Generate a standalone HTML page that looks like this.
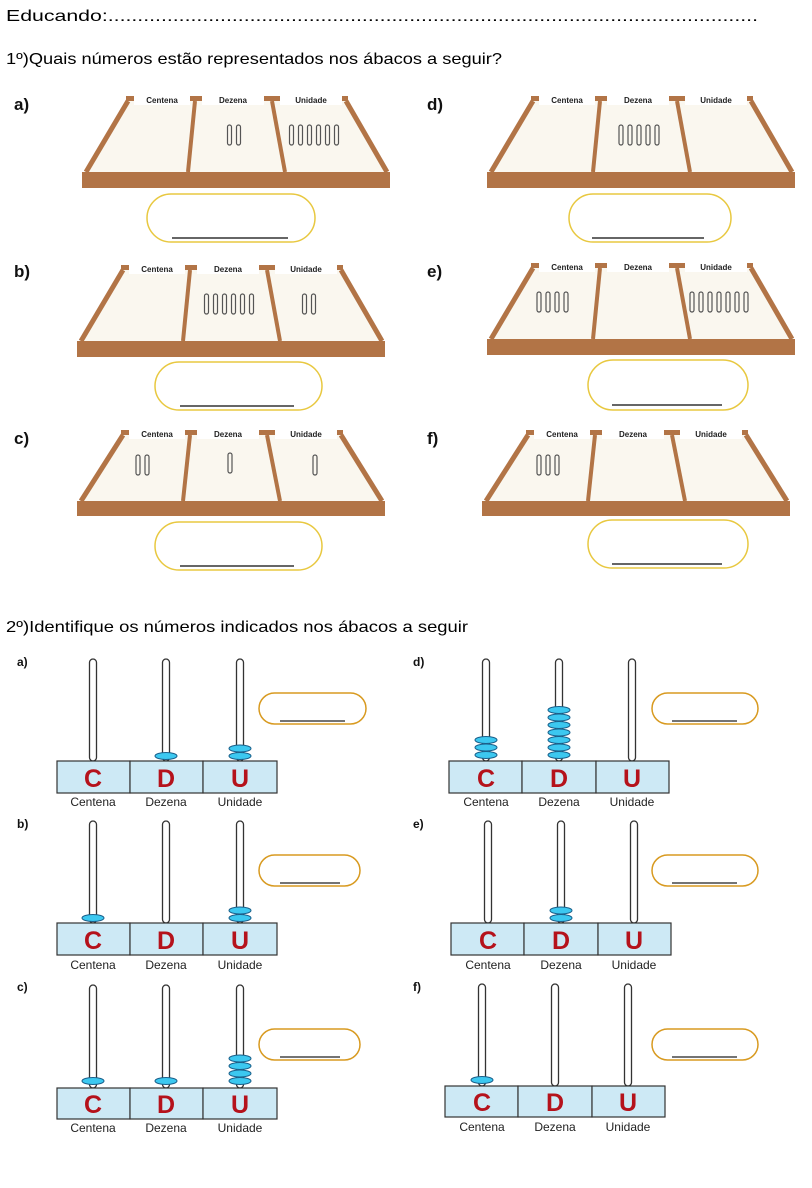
<!DOCTYPE html>
<html><head><meta charset="utf-8"><style>
html,body{margin:0;padding:0;background:#fff;width:812px;height:1188px;overflow:hidden}
svg{display:block}
.t{font-family:"Liberation Sans",sans-serif}
.lb{font-family:"Liberation Sans",sans-serif;font-size:8px;font-weight:bold;fill:#222}
.st{fill:none;stroke:#555;stroke-width:1.2}
.rod{fill:#fff;stroke:#333;stroke-width:1.3}
.bd{fill:#3cc8f0;stroke:#1a5f8a;stroke-width:1}
.cell{fill:#cde9f5;stroke:#333;stroke-width:1.2}
.L{font-family:"Liberation Sans",sans-serif;font-weight:bold;font-size:25px;fill:#b5121b}
.cap{font-family:"Liberation Sans",sans-serif;font-size:12px;fill:#222}
.ov{fill:#fff;stroke:#e8c840;stroke-width:1.5}
.ov2{fill:#fff;stroke:#d89a20;stroke-width:1.5}
</style></head><body>
<svg width="812" height="1188" viewBox="0 0 812 1188" xmlns="http://www.w3.org/2000/svg">
<text class="t" x="6" y="21" font-size="16" textLength="752" lengthAdjust="spacingAndGlyphs">Educando:..............................................................................................................</text>
<text class="t" x="6" y="64" font-size="16" textLength="496" lengthAdjust="spacingAndGlyphs">1º)Quais números estão representados nos ábacos a seguir?</text>
<text class="t" x="6" y="632" font-size="16" textLength="462" lengthAdjust="spacingAndGlyphs">2º)Identifique os números indicados nos ábacos a seguir</text>

<g class="t" font-size="17" font-weight="bold" fill="#111">
<text x="14" y="110">a)</text><text x="427" y="110">d)</text>
<text x="14" y="277">b)</text><text x="427" y="277">e)</text>
<text x="14" y="444">c)</text><text x="427" y="444">f)</text>
</g>

<defs>
<g id="none"></g>
</defs>

<!-- Tray a -->
<g transform="translate(82,101)">
<polygon points="46,0 264,0 306,71 2,71" fill="#faf7ef"/>
<rect x="0" y="71" width="308" height="16" fill="#b27446"/>
<line x1="46" y1="0" x2="4" y2="71" stroke="#b27446" stroke-width="5"/>
<line x1="264" y1="0" x2="305" y2="71" stroke="#b27446" stroke-width="5"/>
<line x1="113" y1="0" x2="106" y2="71" stroke="#b27446" stroke-width="4"/>
<line x1="190" y1="0" x2="203" y2="71" stroke="#b27446" stroke-width="4"/>
<rect x="44" y="-5" width="222" height="5" fill="#b27446"/>
<rect x="52" y="-6" width="56" height="10" fill="#fff"/><rect x="120" y="-6" width="62" height="10" fill="#fff"/><rect x="198" y="-6" width="62" height="10" fill="#fff"/>
<text class="lb" x="80" y="2" text-anchor="middle">Centena</text><text class="lb" x="151" y="2" text-anchor="middle">Dezena</text><text class="lb" x="229" y="2" text-anchor="middle">Unidade</text>
<g class="st"><rect x="145.5" y="24" width="4" height="20" rx="2"/><rect x="154.5" y="24" width="4" height="20" rx="2"/>
<rect x="207.5" y="24" width="4" height="20" rx="2"/><rect x="216.5" y="24" width="4" height="20" rx="2"/><rect x="225.5" y="24" width="4" height="20" rx="2"/><rect x="234.5" y="24" width="4" height="20" rx="2"/><rect x="243.5" y="24" width="4" height="20" rx="2"/><rect x="252.5" y="24" width="4" height="20" rx="2"/></g>
</g>
<rect class="ov" x="147" y="194" width="168" height="48" rx="24"/><line x1="172" y1="238" x2="288" y2="238" stroke="#333" stroke-width="1.5"/>

<!-- Tray d -->
<g transform="translate(487,101)">
<polygon points="46,0 264,0 306,71 2,71" fill="#faf7ef"/>
<rect x="0" y="71" width="308" height="16" fill="#b27446"/>
<line x1="46" y1="0" x2="4" y2="71" stroke="#b27446" stroke-width="5"/>
<line x1="264" y1="0" x2="305" y2="71" stroke="#b27446" stroke-width="5"/>
<line x1="113" y1="0" x2="106" y2="71" stroke="#b27446" stroke-width="4"/>
<line x1="190" y1="0" x2="203" y2="71" stroke="#b27446" stroke-width="4"/>
<rect x="44" y="-5" width="222" height="5" fill="#b27446"/>
<rect x="52" y="-6" width="56" height="10" fill="#fff"/><rect x="120" y="-6" width="62" height="10" fill="#fff"/><rect x="198" y="-6" width="62" height="10" fill="#fff"/>
<text class="lb" x="80" y="2" text-anchor="middle">Centena</text><text class="lb" x="151" y="2" text-anchor="middle">Dezena</text><text class="lb" x="229" y="2" text-anchor="middle">Unidade</text>
<g class="st"><rect x="132" y="24" width="4" height="20" rx="2"/><rect x="141" y="24" width="4" height="20" rx="2"/><rect x="150" y="24" width="4" height="20" rx="2"/><rect x="159" y="24" width="4" height="20" rx="2"/><rect x="168" y="24" width="4" height="20" rx="2"/></g>
</g>
<rect class="ov" x="569" y="194" width="162" height="48" rx="24"/><line x1="592" y1="238" x2="704" y2="238" stroke="#333" stroke-width="1.5"/>

<!-- Tray b -->
<g transform="translate(77,270)">
<polygon points="46,0 264,0 306,71 2,71" fill="#faf7ef"/>
<rect x="0" y="71" width="308" height="16" fill="#b27446"/>
<line x1="46" y1="0" x2="4" y2="71" stroke="#b27446" stroke-width="5"/>
<line x1="264" y1="0" x2="305" y2="71" stroke="#b27446" stroke-width="5"/>
<line x1="113" y1="0" x2="106" y2="71" stroke="#b27446" stroke-width="4"/>
<line x1="190" y1="0" x2="203" y2="71" stroke="#b27446" stroke-width="4"/>
<rect x="44" y="-5" width="222" height="5" fill="#b27446"/>
<rect x="52" y="-6" width="56" height="10" fill="#fff"/><rect x="120" y="-6" width="62" height="10" fill="#fff"/><rect x="198" y="-6" width="62" height="10" fill="#fff"/>
<text class="lb" x="80" y="2" text-anchor="middle">Centena</text><text class="lb" x="151" y="2" text-anchor="middle">Dezena</text><text class="lb" x="229" y="2" text-anchor="middle">Unidade</text>
<g class="st"><rect x="127.5" y="24" width="4" height="20" rx="2"/><rect x="136.5" y="24" width="4" height="20" rx="2"/><rect x="145.5" y="24" width="4" height="20" rx="2"/><rect x="154.5" y="24" width="4" height="20" rx="2"/><rect x="163.5" y="24" width="4" height="20" rx="2"/><rect x="172.5" y="24" width="4" height="20" rx="2"/>
<rect x="225.5" y="24" width="4" height="20" rx="2"/><rect x="234.5" y="24" width="4" height="20" rx="2"/></g>
</g>
<rect class="ov" x="155" y="362" width="167" height="48" rx="24"/><line x1="180" y1="406" x2="294" y2="406" stroke="#333" stroke-width="1.5"/>

<!-- Tray e -->
<g transform="translate(487,268)">
<polygon points="46,0 264,0 306,71 2,71" fill="#faf7ef"/>
<rect x="0" y="71" width="308" height="16" fill="#b27446"/>
<line x1="46" y1="0" x2="4" y2="71" stroke="#b27446" stroke-width="5"/>
<line x1="264" y1="0" x2="305" y2="71" stroke="#b27446" stroke-width="5"/>
<line x1="113" y1="0" x2="106" y2="71" stroke="#b27446" stroke-width="4"/>
<line x1="190" y1="0" x2="203" y2="71" stroke="#b27446" stroke-width="4"/>
<rect x="44" y="-5" width="222" height="5" fill="#b27446"/>
<rect x="52" y="-6" width="56" height="10" fill="#fff"/><rect x="120" y="-6" width="62" height="10" fill="#fff"/><rect x="198" y="-6" width="62" height="10" fill="#fff"/>
<text class="lb" x="80" y="2" text-anchor="middle">Centena</text><text class="lb" x="151" y="2" text-anchor="middle">Dezena</text><text class="lb" x="229" y="2" text-anchor="middle">Unidade</text>
<g class="st"><rect x="50" y="24" width="4" height="20" rx="2"/><rect x="59" y="24" width="4" height="20" rx="2"/><rect x="68" y="24" width="4" height="20" rx="2"/><rect x="77" y="24" width="4" height="20" rx="2"/>
<rect x="203" y="24" width="4" height="20" rx="2"/><rect x="212" y="24" width="4" height="20" rx="2"/><rect x="221" y="24" width="4" height="20" rx="2"/><rect x="230" y="24" width="4" height="20" rx="2"/><rect x="239" y="24" width="4" height="20" rx="2"/><rect x="248" y="24" width="4" height="20" rx="2"/><rect x="257" y="24" width="4" height="20" rx="2"/></g>
</g>
<rect class="ov" x="588" y="360" width="160" height="50" rx="25"/><line x1="612" y1="405" x2="722" y2="405" stroke="#333" stroke-width="1.5"/>

<!-- Tray c -->
<g transform="translate(77,435)">
<polygon points="46,0 264,0 306,66 2,66" fill="#faf7ef"/>
<rect x="0" y="66" width="308" height="15" fill="#b27446"/>
<line x1="46" y1="0" x2="4" y2="66" stroke="#b27446" stroke-width="5"/>
<line x1="264" y1="0" x2="305" y2="66" stroke="#b27446" stroke-width="5"/>
<line x1="113" y1="0" x2="106" y2="66" stroke="#b27446" stroke-width="4"/>
<line x1="190" y1="0" x2="203" y2="66" stroke="#b27446" stroke-width="4"/>
<rect x="44" y="-5" width="222" height="5" fill="#b27446"/>
<rect x="52" y="-6" width="56" height="10" fill="#fff"/><rect x="120" y="-6" width="62" height="10" fill="#fff"/><rect x="198" y="-6" width="62" height="10" fill="#fff"/>
<text class="lb" x="80" y="2" text-anchor="middle">Centena</text><text class="lb" x="151" y="2" text-anchor="middle">Dezena</text><text class="lb" x="229" y="2" text-anchor="middle">Unidade</text>
<g class="st"><rect x="59" y="20" width="4" height="20" rx="2"/><rect x="68" y="20" width="4" height="20" rx="2"/><rect x="151" y="18" width="4" height="20" rx="2"/><rect x="236" y="20" width="4" height="20" rx="2"/></g>
</g>
<rect class="ov" x="155" y="522" width="167" height="48" rx="24"/><line x1="180" y1="566" x2="294" y2="566" stroke="#333" stroke-width="1.5"/>

<!-- Tray f -->
<g transform="translate(482,435)">
<polygon points="46,0 264,0 306,66 2,66" fill="#faf7ef"/>
<rect x="0" y="66" width="308" height="15" fill="#b27446"/>
<line x1="46" y1="0" x2="4" y2="66" stroke="#b27446" stroke-width="5"/>
<line x1="264" y1="0" x2="305" y2="66" stroke="#b27446" stroke-width="5"/>
<line x1="113" y1="0" x2="106" y2="66" stroke="#b27446" stroke-width="4"/>
<line x1="190" y1="0" x2="203" y2="66" stroke="#b27446" stroke-width="4"/>
<rect x="44" y="-5" width="222" height="5" fill="#b27446"/>
<rect x="52" y="-6" width="56" height="10" fill="#fff"/><rect x="120" y="-6" width="62" height="10" fill="#fff"/><rect x="198" y="-6" width="62" height="10" fill="#fff"/>
<text class="lb" x="80" y="2" text-anchor="middle">Centena</text><text class="lb" x="151" y="2" text-anchor="middle">Dezena</text><text class="lb" x="229" y="2" text-anchor="middle">Unidade</text>
<g class="st"><rect x="55" y="20" width="4" height="20" rx="2"/><rect x="64" y="20" width="4" height="20" rx="2"/><rect x="73" y="20" width="4" height="20" rx="2"/></g>
</g>
<rect class="ov" x="588" y="520" width="160" height="48" rx="24"/><line x1="612" y1="564" x2="722" y2="564" stroke="#333" stroke-width="1.5"/>

<!-- Part 2 letters -->
<g class="t" font-size="12" font-weight="bold" fill="#111">
<text x="17" y="666">a)</text><text x="413" y="666">d)</text>
<text x="17" y="828">b)</text><text x="413" y="828">e)</text>
<text x="17" y="991">c)</text><text x="413" y="991">f)</text>
</g>

<!-- Abacus a (left, base 761) -->
<g>
<rect class="rod" x="89.5" y="659" width="7" height="102" rx="3.5"/><rect class="rod" x="162.5" y="659" width="7" height="102" rx="3.5"/><rect class="rod" x="236.5" y="659" width="7" height="102" rx="3.5"/>
<ellipse class="bd" cx="166" cy="756" rx="11" ry="3.5"/>
<ellipse class="bd" cx="240" cy="756" rx="11" ry="3.5"/><ellipse class="bd" cx="240" cy="748.5" rx="11" ry="3.5"/>
<rect class="cell" x="57" y="761" width="73" height="32"/><rect class="cell" x="130" y="761" width="73" height="32"/><rect class="cell" x="203" y="761" width="74" height="32"/>
<text class="L" x="93" y="787" text-anchor="middle">C</text><text class="L" x="166" y="787" text-anchor="middle">D</text><text class="L" x="240" y="787" text-anchor="middle">U</text>
<text class="cap" x="93" y="806" text-anchor="middle">Centena</text><text class="cap" x="166" y="806" text-anchor="middle">Dezena</text><text class="cap" x="240" y="806" text-anchor="middle">Unidade</text>
<rect class="ov2" x="259" y="693" width="107" height="31" rx="15.5"/><line x1="280" y1="721" x2="345" y2="721" stroke="#222" stroke-width="1.2"/>
</g>

<!-- Abacus b (left, base 923) -->
<g>
<rect class="rod" x="89.5" y="821" width="7" height="102" rx="3.5"/><rect class="rod" x="162.5" y="821" width="7" height="102" rx="3.5"/><rect class="rod" x="236.5" y="821" width="7" height="102" rx="3.5"/>
<ellipse class="bd" cx="93" cy="918" rx="11" ry="3.5"/>
<ellipse class="bd" cx="240" cy="918" rx="11" ry="3.5"/><ellipse class="bd" cx="240" cy="910.5" rx="11" ry="3.5"/>
<rect class="cell" x="57" y="923" width="73" height="32"/><rect class="cell" x="130" y="923" width="73" height="32"/><rect class="cell" x="203" y="923" width="74" height="32"/>
<text class="L" x="93" y="949" text-anchor="middle">C</text><text class="L" x="166" y="949" text-anchor="middle">D</text><text class="L" x="240" y="949" text-anchor="middle">U</text>
<text class="cap" x="93" y="969" text-anchor="middle">Centena</text><text class="cap" x="166" y="969" text-anchor="middle">Dezena</text><text class="cap" x="240" y="969" text-anchor="middle">Unidade</text>
<rect class="ov2" x="259" y="855" width="101" height="31" rx="15.5"/><line x1="280" y1="883" x2="340" y2="883" stroke="#222" stroke-width="1.2"/>
</g>

<!-- Abacus c (left, base 1088) -->
<g>
<rect class="rod" x="89.5" y="985" width="7" height="103" rx="3.5"/><rect class="rod" x="162.5" y="985" width="7" height="103" rx="3.5"/><rect class="rod" x="236.5" y="985" width="7" height="103" rx="3.5"/>
<ellipse class="bd" cx="93" cy="1081" rx="11" ry="3.5"/><ellipse class="bd" cx="166" cy="1081" rx="11" ry="3.5"/>
<ellipse class="bd" cx="240" cy="1081" rx="11" ry="3.5"/><ellipse class="bd" cx="240" cy="1073.5" rx="11" ry="3.5"/><ellipse class="bd" cx="240" cy="1066" rx="11" ry="3.5"/><ellipse class="bd" cx="240" cy="1058.5" rx="11" ry="3.5"/>
<rect class="cell" x="57" y="1088" width="73" height="31"/><rect class="cell" x="130" y="1088" width="73" height="31"/><rect class="cell" x="203" y="1088" width="74" height="31"/>
<text class="L" x="93" y="1113" text-anchor="middle">C</text><text class="L" x="166" y="1113" text-anchor="middle">D</text><text class="L" x="240" y="1113" text-anchor="middle">U</text>
<text class="cap" x="93" y="1132" text-anchor="middle">Centena</text><text class="cap" x="166" y="1132" text-anchor="middle">Dezena</text><text class="cap" x="240" y="1132" text-anchor="middle">Unidade</text>
<rect class="ov2" x="259" y="1029" width="101" height="31" rx="15.5"/><line x1="280" y1="1057" x2="340" y2="1057" stroke="#222" stroke-width="1.2"/>
</g>

<!-- Abacus d (right, base 761) -->
<g>
<rect class="rod" x="482.5" y="659" width="7" height="102" rx="3.5"/><rect class="rod" x="555.5" y="659" width="7" height="102" rx="3.5"/><rect class="rod" x="628.5" y="659" width="7" height="102" rx="3.5"/>
<ellipse class="bd" cx="486" cy="755" rx="11" ry="3.5"/><ellipse class="bd" cx="486" cy="747.5" rx="11" ry="3.5"/><ellipse class="bd" cx="486" cy="740" rx="11" ry="3.5"/>
<ellipse class="bd" cx="559" cy="755" rx="11" ry="3.5"/><ellipse class="bd" cx="559" cy="747.5" rx="11" ry="3.5"/><ellipse class="bd" cx="559" cy="740" rx="11" ry="3.5"/><ellipse class="bd" cx="559" cy="732.5" rx="11" ry="3.5"/><ellipse class="bd" cx="559" cy="725" rx="11" ry="3.5"/><ellipse class="bd" cx="559" cy="717.5" rx="11" ry="3.5"/><ellipse class="bd" cx="559" cy="710" rx="11" ry="3.5"/>
<rect class="cell" x="449" y="761" width="73" height="32"/><rect class="cell" x="522" y="761" width="74" height="32"/><rect class="cell" x="596" y="761" width="73" height="32"/>
<text class="L" x="486" y="787" text-anchor="middle">C</text><text class="L" x="559" y="787" text-anchor="middle">D</text><text class="L" x="632" y="787" text-anchor="middle">U</text>
<text class="cap" x="486" y="806" text-anchor="middle">Centena</text><text class="cap" x="559" y="806" text-anchor="middle">Dezena</text><text class="cap" x="632" y="806" text-anchor="middle">Unidade</text>
<rect class="ov2" x="652" y="693" width="106" height="31" rx="15.5"/><line x1="672" y1="721" x2="737" y2="721" stroke="#222" stroke-width="1.2"/>
</g>

<!-- Abacus e (right, base 923) -->
<g>
<rect class="rod" x="484.5" y="821" width="7" height="102" rx="3.5"/><rect class="rod" x="557.5" y="821" width="7" height="102" rx="3.5"/><rect class="rod" x="630.5" y="821" width="7" height="102" rx="3.5"/>
<ellipse class="bd" cx="561" cy="918" rx="11" ry="3.5"/><ellipse class="bd" cx="561" cy="910.5" rx="11" ry="3.5"/>
<rect class="cell" x="451" y="923" width="73" height="32"/><rect class="cell" x="524" y="923" width="74" height="32"/><rect class="cell" x="598" y="923" width="73" height="32"/>
<text class="L" x="488" y="949" text-anchor="middle">C</text><text class="L" x="561" y="949" text-anchor="middle">D</text><text class="L" x="634" y="949" text-anchor="middle">U</text>
<text class="cap" x="488" y="969" text-anchor="middle">Centena</text><text class="cap" x="561" y="969" text-anchor="middle">Dezena</text><text class="cap" x="634" y="969" text-anchor="middle">Unidade</text>
<rect class="ov2" x="652" y="855" width="106" height="31" rx="15.5"/><line x1="672" y1="883" x2="737" y2="883" stroke="#222" stroke-width="1.2"/>
</g>

<!-- Abacus f (right, base 1086) -->
<g>
<rect class="rod" x="478.5" y="984" width="7" height="102" rx="3.5"/><rect class="rod" x="551.5" y="984" width="7" height="102" rx="3.5"/><rect class="rod" x="624.5" y="984" width="7" height="102" rx="3.5"/>
<ellipse class="bd" cx="482" cy="1080" rx="11" ry="3.5"/>
<rect class="cell" x="445" y="1086" width="73" height="31"/><rect class="cell" x="518" y="1086" width="74" height="31"/><rect class="cell" x="592" y="1086" width="73" height="31"/>
<text class="L" x="482" y="1111" text-anchor="middle">C</text><text class="L" x="555" y="1111" text-anchor="middle">D</text><text class="L" x="628" y="1111" text-anchor="middle">U</text>
<text class="cap" x="482" y="1131" text-anchor="middle">Centena</text><text class="cap" x="555" y="1131" text-anchor="middle">Dezena</text><text class="cap" x="628" y="1131" text-anchor="middle">Unidade</text>
<rect class="ov2" x="652" y="1029" width="106" height="31" rx="15.5"/><line x1="672" y1="1057" x2="737" y2="1057" stroke="#222" stroke-width="1.2"/>
</g>
</svg>
</body></html>
